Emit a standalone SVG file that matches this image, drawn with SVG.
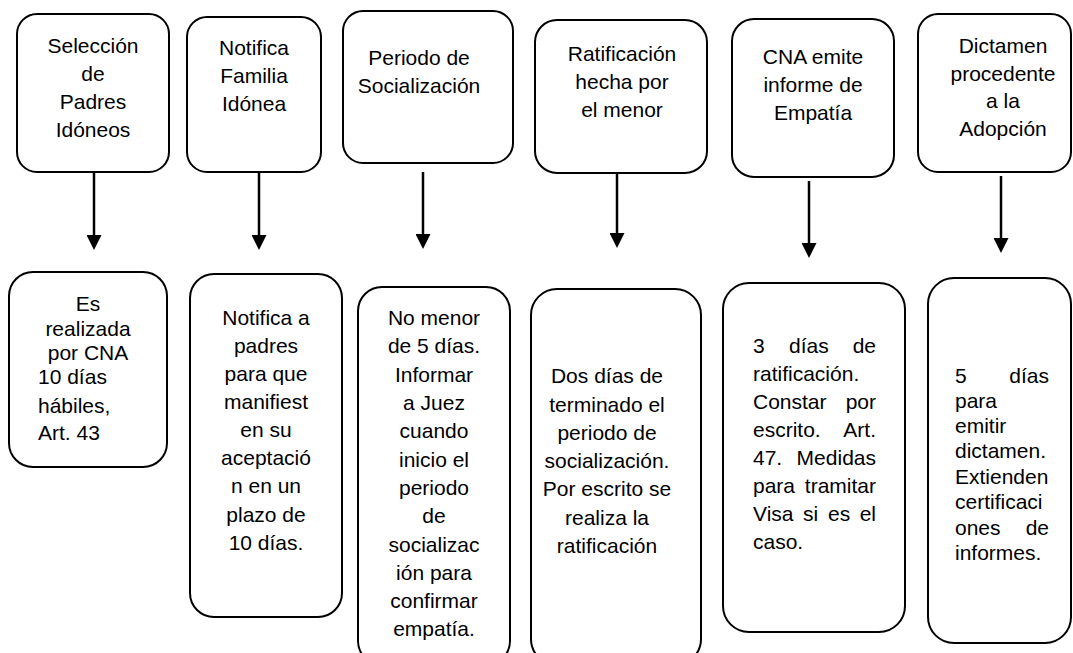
<svg xmlns="http://www.w3.org/2000/svg" width="1073" height="653" viewBox="0 0 1073 653">
<style>
.box{fill:#fff;stroke:#000;stroke-width:2}
.t{font-family:"Liberation Sans",Arial,sans-serif;font-size:21px;fill:#000}
.c{text-anchor:middle}
.e{text-anchor:end}
.arr{stroke:#000;stroke-width:2.5;fill:none;marker-end:url(#ah)}
</style>
<defs>
<marker id="ah" viewBox="0 0 10 10" refX="3" refY="5" markerUnits="userSpaceOnUse" markerWidth="15" markerHeight="15" orient="auto">
<path d="M0,0 L10,5 L0,10 z" fill="#000"/>
</marker>
</defs>
<rect width="1073" height="653" fill="#fff"/>

<g id="connectors">
<line class="arr" x1="94" y1="172" x2="94" y2="239.5"/>
<line class="arr" x1="259" y1="173" x2="259" y2="239.5"/>
<line class="arr" x1="423" y1="172" x2="423" y2="238.5"/>
<line class="arr" x1="617" y1="173" x2="617" y2="237.5"/>
<line class="arr" x1="809" y1="181" x2="809" y2="247.5"/>
<line class="arr" x1="1001" y1="176" x2="1001" y2="242.5"/>
</g>

<g id="top1">
<rect class="box" x="17" y="14" width="152" height="158" rx="20"/>
<text class="t c" x="93" y="53">Selección</text>
<text class="t c" x="93" y="81">de</text>
<text class="t c" x="93" y="109">Padres</text>
<text class="t c" x="93" y="137">Idóneos</text>
</g>
<g id="top2">
<rect class="box" x="187" y="17" width="134" height="155" rx="20"/>
<text class="t c" x="254" y="55">Notifica</text>
<text class="t c" x="254" y="83">Familia</text>
<text class="t c" x="254" y="111">Idónea</text>
</g>
<g id="top3">
<rect class="box" x="343" y="11" width="170" height="152" rx="20"/>
<text class="t c" x="419" y="65">Periodo de</text>
<text class="t c" x="419" y="93">Socialización</text>
</g>
<g id="top4">
<rect class="box" x="535" y="20" width="172" height="153" rx="22"/>
<text class="t c" x="622" y="61">Ratificación</text>
<text class="t c" x="622" y="89">hecha por</text>
<text class="t c" x="622" y="117">el menor</text>
</g>
<g id="top5">
<rect class="box" x="732" y="19" width="162" height="158" rx="22"/>
<text class="t c" x="813" y="64">CNA emite</text>
<text class="t c" x="813" y="92">informe de</text>
<text class="t c" x="813" y="120">Empatía</text>
</g>
<g id="top6">
<rect class="box" x="918" y="14" width="153" height="158" rx="20"/>
<text class="t c" x="1003" y="53">Dictamen</text>
<text class="t c" x="1003" y="81">procedente</text>
<text class="t c" x="1003" y="108">a la</text>
<text class="t c" x="1003" y="136">Adopción</text>
</g>

<g id="bot1">
<rect class="box" x="9" y="272" width="158" height="195" rx="24"/>
<text class="t c" x="88" y="311">Es</text>
<text class="t c" x="88" y="336">realizada</text>
<text class="t c" x="88" y="360">por CNA</text>
<text class="t" x="38" y="384">10 días</text>
<text class="t" x="38" y="413">hábiles,</text>
<text class="t" x="38" y="440">Art. 43</text>
</g>
<g id="bot2">
<rect class="box" x="190" y="274" width="152" height="343" rx="24"/>
<text class="t c" x="266" y="325">Notifica a</text>
<text class="t c" x="266" y="353">padres</text>
<text class="t c" x="266" y="381">para que</text>
<text class="t c" x="266" y="409">manifiest</text>
<text class="t c" x="266" y="437">en su</text>
<text class="t c" x="266" y="465">aceptació</text>
<text class="t c" x="266" y="493">n en un</text>
<text class="t c" x="266" y="522">plazo de</text>
<text class="t c" x="266" y="550">10 días.</text>
</g>
<g id="bot3">
<rect class="box" x="358" y="287" width="152" height="378" rx="24"/>
<text class="t c" x="434" y="325">No menor</text>
<text class="t c" x="434" y="353">de 5 días.</text>
<text class="t c" x="434" y="382">Informar</text>
<text class="t c" x="434" y="410">a Juez</text>
<text class="t c" x="434" y="438">cuando</text>
<text class="t c" x="434" y="467">inicio el</text>
<text class="t c" x="434" y="495">periodo</text>
<text class="t c" x="434" y="523">de</text>
<text class="t c" x="434" y="552">socializac</text>
<text class="t c" x="434" y="580">ión para</text>
<text class="t c" x="434" y="608">confirmar</text>
<text class="t c" x="434" y="636">empatía.</text>
</g>
<g id="bot4">
<rect class="box" x="531" y="289" width="170" height="376" rx="26"/>
<text class="t c" x="607" y="383">Dos días de</text>
<text class="t c" x="607" y="412">terminado el</text>
<text class="t c" x="607" y="440">periodo de</text>
<text class="t c" x="607" y="468">socialización.</text>
<text class="t c" x="607" y="496">Por escrito se</text>
<text class="t c" x="607" y="525">realiza la</text>
<text class="t c" x="607" y="553">ratificación</text>
</g>
<g id="bot5">
<rect class="box" x="723" y="283" width="182" height="349" rx="26"/>
<text class="t" x="753" y="353">3</text>
<text class="t" x="789" y="353">días</text>
<text class="t e" x="876" y="353">de</text>
<text class="t" x="753" y="381">ratificación.</text>
<text class="t" x="753" y="409">Constar</text>
<text class="t e" x="876" y="409">por</text>
<text class="t" x="753" y="437">escrito.</text>
<text class="t e" x="876" y="437">Art.</text>
<text class="t" x="753" y="465">47.</text>
<text class="t e" x="876" y="465">Medidas</text>
<text class="t" x="753" y="493">para</text>
<text class="t e" x="876" y="493">tramitar</text>
<text class="t" x="753" y="521">Visa</text>
<text class="t" x="803" y="521">si</text>
<text class="t" x="828" y="521">es</text>
<text class="t e" x="876" y="521">el</text>
<text class="t" x="753" y="549">caso.</text>
</g>
<g id="bot6">
<rect class="box" x="928" y="278" width="143" height="365" rx="26"/>
<text class="t" x="955" y="383">5</text>
<text class="t e" x="1049" y="383">días</text>
<text class="t" x="955" y="408">para</text>
<text class="t" x="955" y="433">emitir</text>
<text class="t" x="955" y="458">dictamen.</text>
<text class="t" x="955" y="484">Extienden</text>
<text class="t" x="955" y="509">certificaci</text>
<text class="t" x="955" y="535">ones</text>
<text class="t e" x="1049" y="535">de</text>
<text class="t" x="955" y="560">informes.</text>
</g>
</svg>
